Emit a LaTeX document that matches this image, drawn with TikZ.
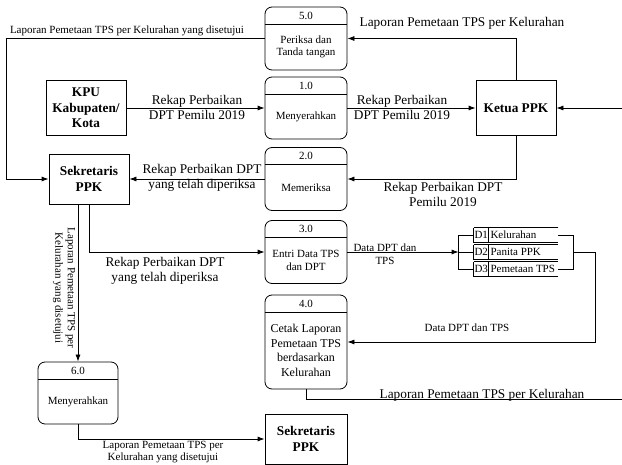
\documentclass[tikz,border=0pt]{standalone}
\usepackage{fontspec}
\setmainfont{Liberation Serif}
\usetikzlibrary{arrows.meta}

\begin{document}
\begin{tikzpicture}[x=1pt,y=-1pt,line width=0.8pt,
  entity/.style={draw,minimum width=80pt,minimum height=55pt,align=center,inner sep=0pt,
    font=\bfseries\fontsize{13.3}{15.5}\selectfont},
  process/.style={draw,rounded corners=7pt,minimum width=82pt,minimum height=#1,inner sep=0pt,
    path picture={\draw ([yshift=-17pt]path picture bounding box.north west)
      -- ([yshift=-17pt]path picture bounding box.north east);}},
  process/.default=63pt,
  num/.style={font=\fontsize{11}{12}\selectfont,inner sep=0pt},
  lbl/.style={font=\fontsize{13.3}{15}\selectfont,align=center,inner sep=0pt},
  slbl/.style={font=\fontsize{11}{12.5}\selectfont,align=center,inner sep=0pt},
  store/.style={minimum width=84pt,minimum height=14pt,inner sep=0pt},
  flow/.style={-{Latex[length=7pt,width=5pt]}}]
  \useasboundingbox (0,0) rectangle (622,465);

  % external entities
  \node[entity] (kpu)   at (86,108)  {KPU\\Kabupaten/\\Kota};
  \node[entity] (ketua) at (516,108) {Ketua PPK};
  \node[entity,minimum height=50pt] (sek) at (89,179) {Sekretaris\\PPK};
  \node[entity,minimum width=82pt,minimum height=50pt] (sekb) at (306,439) {Sekretaris\\PPK};

  % processes
  \node[process] (p5) at (306,38.5) {};
  \node[num] at ([yshift=-9pt]p5.north) {5.0};
  \node[slbl] at ([yshift=-8.5pt]p5.center) {Periksa dan\\Tanda tangan};

  \node[process=62pt] (p1) at (306,108) {};
  \node[num] at ([yshift=-9pt]p1.north) {1.0};
  \node[slbl] at ([yshift=-8.5pt]p1.center) {Menyerahkan};

  \node[process] (p2) at (306,179) {};
  \node[num] at ([yshift=-9pt]p2.north) {2.0};
  \node[slbl] at ([yshift=-8.5pt]p2.center) {Memeriksa};

  \node[process] (p3) at (306,252) {};
  \node[num] at ([yshift=-9pt]p3.north) {3.0};
  \node[slbl] at ([yshift=-8.5pt]p3.center) {Entri Data TPS\\dan DPT};

  \node[process=94pt] (p4) at (306,342) {};
  \node[num] at ([yshift=-9pt]p4.north) {4.0};
  \node[slbl,font=\fontsize{12}{14.5}\selectfont] at ([yshift=-8.5pt]p4.center)
    {Cetak Laporan\\Pemetaan TPS\\berdasarkan\\Kelurahan};

  \node[process=62pt,minimum width=80pt] (p6) at (78,393) {};
  \node[num] at ([yshift=-9pt]p6.north) {6.0};
  \node[slbl] at ([yshift=-8.5pt]p6.center) {Menyerahkan};

  % data store
  \foreach \i/\y/\txt in {1/235/Kelurahan, 2/252/Panita PPK, 3/269/Pemetaan TPS} {
    \node[store] (d\i) at (516,\y) {};
    \draw[line width=1.2pt] (d\i.north east) -- (d\i.north west);
    \draw (d\i.north west) -- (d\i.south west) -- (d\i.south east)
      ([xshift=15pt]d\i.north west) -- ([xshift=15pt]d\i.south west);
    \node[slbl,anchor=west] at ([xshift=0.5pt]d\i.west) {D\i};
    \node[slbl,anchor=west] at ([xshift=16.5pt]d\i.west) {\txt};
  }

  \coordinate (lft) at (6,38.5);
  \coordinate (fork) at ([xshift=-15pt]d2.west);
  \coordinate (rin) at (622,108);
  \coordinate (rout) at (622,399);

  % flows
  \draw[flow] (kpu) -- (p1);
  \draw[flow] (p1) -- (ketua);
  \draw[flow] (rin) -- (ketua);
  \draw[flow] (ketua) |- (p5);
  \draw[flow] (ketua) |- (p2);
  \draw[flow] (p5) -- (lft) |- (sek);
  \draw[flow] (p2) -- (sek);
  \draw[flow] (sek) |- (p3);
  \draw[flow] (p6 |- sek.south) -- (p6);
  \draw[flow] (p6) |- (sekb);
  \draw[flow] (p3) -- (fork);
  \draw (fork) -- (d2.west);
  \draw (d1.west) -- (d1.west -| fork) -- (d3.west -| fork) -- (d3.west);
  \draw (d1.east) -- ++(15,0) |- (d3.east);
  \draw[flow] ([xshift=15pt]d2.east) -- ++(22,0) |- (p4);
  \draw (p4) |- (rout);

  % labels
  \node[slbl] at (127,31) {Laporan Pemetaan TPS per Kelurahan yang disetujui};
  \node[lbl] at (462,23) {Laporan Pemetaan TPS per Kelurahan};
  \node[lbl] at (197,107.5) {Rekap Perbaikan\\DPT Pemilu 2019};
  \node[lbl] at (402,107.5) {Rekap Perbaikan\\DPT Pemilu 2019};
  \node[lbl] at (202,178) {Rekap Perbaikan DPT\\yang telah diperiksa};
  \node[lbl] at (443,194.5) {Rekap Perbaikan DPT\\Pemilu 2019};
  \node[slbl] at (385,254) {Data DPT dan\\TPS};
  \node[lbl] at (165,270.5) {Rekap Perbaikan DPT\\yang telah diperiksa};
  \node[slbl] at (467,328) {Data DPT dan TPS};
  \node[lbl] at (482,395) {Laporan Pemetaan TPS per Kelurahan};
  \node[slbl,rotate=-90] at (64,288) {Laporan Pemetaan TPS per\\Kelurahan yang disetujui};
  \node[slbl] at (163,452) {Laporan Pemetaan TPS per\\Kelurahan yang disetujui};
\end{tikzpicture}
\end{document}
